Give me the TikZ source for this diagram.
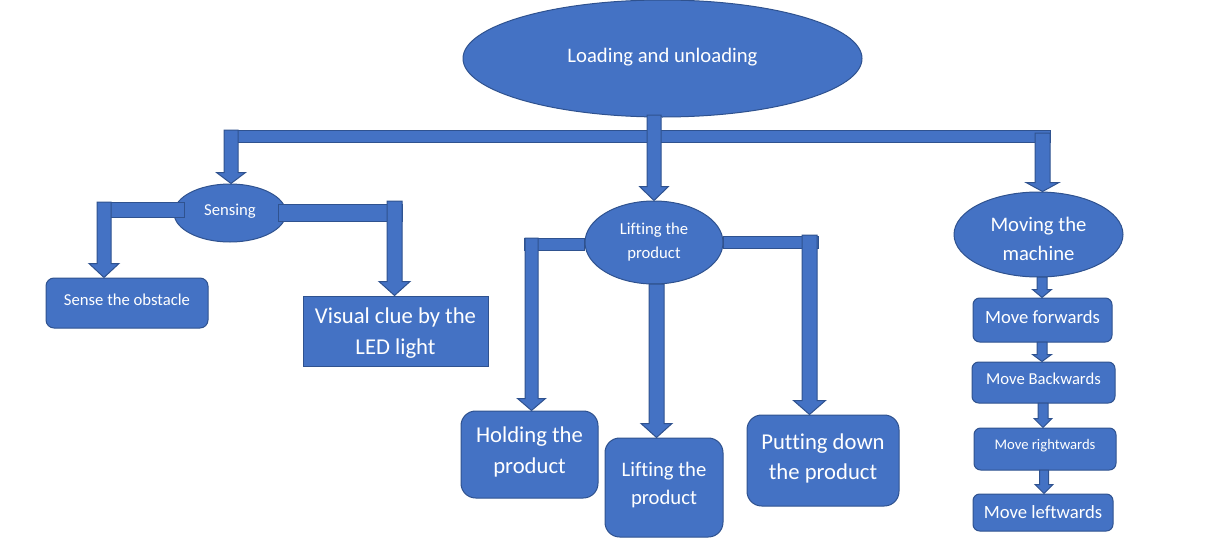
\documentclass[tikz,border=0pt]{standalone}
\usepackage{fontspec}
\setmainfont{Carlito}[Ligatures=NoCommon]
\usetikzlibrary{shapes.geometric,calc}
\definecolor{bfill}{HTML}{4472C4}
\definecolor{bline}{HTML}{2F528F}
% block arrow: #1 x (px), #2 top y (px), #3 tip anchor, #4 shaft half width, #5 head half width, #6 head length
\newcommand\varrow[6]{%
\draw[arr] let \p2=(#3) in
 ({(#1-#4)*0.75pt},{-#2*0.75pt}) --
 ({(#1+#4)*0.75pt},{-#2*0.75pt}) --
 ({(#1+#4)*0.75pt},{\y2+#6*0.75pt}) --
 ({(#1+#5)*0.75pt},{\y2+#6*0.75pt}) --
 ({#1*0.75pt},{\y2}) --
 ({(#1-#5)*0.75pt},{\y2+#6*0.75pt}) --
 ({(#1-#4)*0.75pt},{\y2+#6*0.75pt}) -- cycle;}
% text of a shape: #1 shape node, #2 vertical shift (px, down positive), #3 font size, #4 line skip, #5 text
\newcommand\lbl[5]{\node[txt,font=\fontsize{#3}{#4}\selectfont] (#1-text) at ($(#1)+(0,#2)$) {#5};}
\begin{document}
\begin{tikzpicture}[x=0.75pt,y=-0.75pt,
 arr/.style={fill=bfill,draw=bline,line width=0.75pt},
 base/.style={fill=bfill,draw=bline,line width=0.75pt,inner sep=0pt},
 txt/.style={text=white,inner sep=0pt,align=center},
 ell/.style={base,ellipse},
 rbox/.style={base,rectangle,rounded corners=#1},
 rbox/.default=5pt]
\useasboundingbox (0,0) rectangle (1221,546);
% shapes
\node[ell,minimum width=299.25pt,minimum height=87.75pt] (top) at (662.5,58.5) {};
\node[ell,minimum width=84pt,minimum height=43.5pt] (sens) at (230,213) {};
\node[ell,minimum width=103.5pt,minimum height=62.25pt] (lift) at (654,242.5) {};
\node[ell,minimum width=126.75pt,minimum height=63.75pt] (mov) at (1038.5,234.5) {};
\node[rbox=6pt,minimum width=121.5pt,minimum height=37.5pt] (sob) at (127,303) {};
\node[base,rectangle,minimum width=138.75pt,minimum height=52.5pt] (vis) at (395.5,331) {};
\node[rbox=11pt,minimum width=102.75pt,minimum height=65.25pt] (hold) at (529.5,454.5) {};
\node[rbox=11pt,minimum width=88.5pt,minimum height=74.25pt] (lbox) at (664,487.5) {};
\node[rbox=11pt,minimum width=114pt,minimum height=68.25pt] (put) at (823,460.5) {};
\node[rbox=5pt,minimum width=104.25pt,minimum height=33pt] (fwd) at (1042.5,320) {};
\node[rbox=5pt,minimum width=107.25pt,minimum height=30.75pt] (bwd) at (1043.5,382.5) {};
\node[rbox=5pt,minimum width=106.5pt,minimum height=31.5pt] (rgt) at (1045,449) {};
\node[rbox=5pt,minimum width=105pt,minimum height=27.75pt] (lft) at (1043,512.5) {};
% texts
\lbl{top}{-1}{15.5pt}{19pt}{Loading and unloading}
\lbl{sens}{-2}{12.5pt}{15pt}{Sensing}
\lbl{lift}{0}{12.5pt}{18pt}{Lifting the\\product}
\lbl{mov}{4}{15.5pt}{21.75pt}{Moving the\\machine}
\lbl{sob}{-3}{12.5pt}{15pt}{Sense the obstacle}
\lbl{vis}{2}{17pt}{23.25pt}{Visual clue by the\\LED light}
\lbl{hold}{-3}{17pt}{23.25pt}{Holding the\\product}
\lbl{lbox}{-3}{15.5pt}{21pt}{Lifting the\\product}
\lbl{put}{-2}{17pt}{22.5pt}{Putting down\\the product}
\lbl{fwd}{-3}{14pt}{17pt}{Move forwards}
\lbl{bwd}{-4}{12.5pt}{15pt}{Move Backwards}
\lbl{rgt}{-3}{11pt}{13pt}{Move rightwards}
\lbl{lft}{0}{14pt}{17pt}{Move leftwards}
% top distribution bar
\draw[arr] (224,130) rectangle (1050,142);
\varrow{231}{130}{sens.north}{7}{14.5}{11}
\varrow{654}{115}{lift.north}{7}{14.5}{14}
\varrow{1042.5}{133}{mov.north}{7.5}{16.5}{9}
% sensing branches
\draw[arr] (97,202) rectangle (184,217);
\varrow{104}{202}{sob.north}{7}{15}{14}
\draw[arr] (278,204) rectangle (402,221);
\varrow{394.5}{201}{vis.north}{7.5}{15.5}{14}
% lifting branches
\draw[arr] (524,238) rectangle (584,250);
\varrow{531.5}{238}{hold.north}{6.5}{14}{12}
\varrow{656.5}{284}{lbox.north}{7.5}{15.5}{14}
\draw[arr] (723,236) rectangle (818,248);
\varrow{809.5}{235}{put.north}{7.5}{16}{14}
% moving chain
\varrow{1042}{277}{fwd.north}{5}{9.5}{8}
\varrow{1042}{342}{bwd.north}{5}{9.5}{7}
\varrow{1043}{403}{rgt.north}{5}{9}{9}
\varrow{1044}{470}{lft.north}{4.5}{9}{9}
\end{tikzpicture}
\end{document}
